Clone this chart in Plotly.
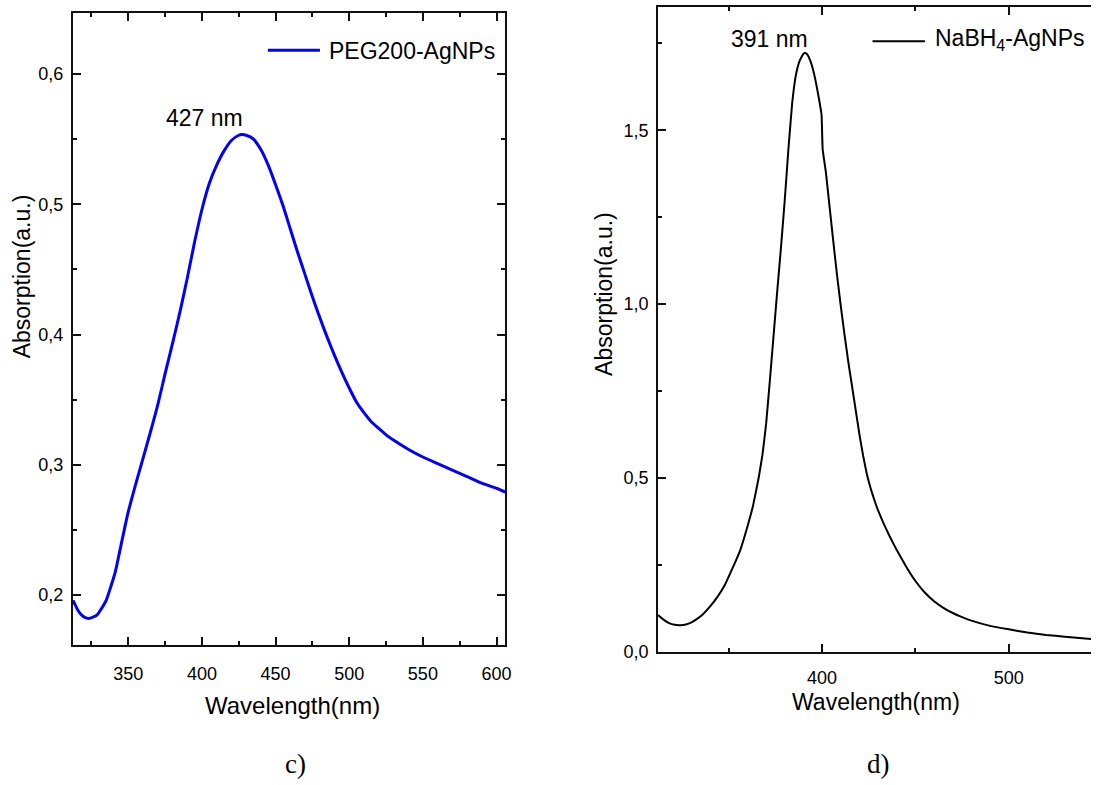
import plotly.graph_objects as go

# ---------------- data ----------------
peg_wavelength = [312.5, 316, 319, 323, 326, 329, 332, 335, 338, 341, 345, 350, 355, 360, 365,
                  370, 375, 380, 385, 390, 395, 400, 405, 410, 415, 420, 425, 427, 430, 435,
                  440, 445, 450, 455, 460, 465, 470, 475, 480, 485, 490, 495, 500, 505, 510,
                  515, 520, 525, 530, 540, 550, 560, 570, 580, 590, 600, 606]
peg_absorption = [0.196, 0.188, 0.184, 0.182, 0.183, 0.185, 0.190, 0.196, 0.206, 0.217, 0.238,
                  0.264, 0.285, 0.305, 0.325, 0.346, 0.370, 0.393, 0.417, 0.443, 0.471, 0.496,
                  0.516, 0.530, 0.541, 0.549, 0.553, 0.5535, 0.553, 0.550, 0.542, 0.530, 0.515,
                  0.499, 0.481, 0.463, 0.446, 0.429, 0.413, 0.398, 0.384, 0.371, 0.359, 0.348,
                  0.340, 0.333, 0.328, 0.323, 0.319, 0.312, 0.306, 0.301, 0.296, 0.291, 0.286,
                  0.282, 0.279]

nabh_wavelength = [312, 315, 318, 321, 324, 327, 330, 333, 336, 340, 344, 348, 352, 356, 360,
                   363, 366, 368, 370, 372, 374, 376, 378, 380, 382, 384, 386, 388, 390, 391,
                   392, 394, 396, 398, 399.7, 400.3, 402, 404, 406, 408, 410, 412, 414, 416,
                   418, 420, 422, 424, 426, 428, 430, 433, 436, 440, 445, 450, 455, 460, 465,
                   470, 475, 480, 490, 500, 510, 520, 530, 544.5]
nabh_absorption = [0.105, 0.092, 0.082, 0.077, 0.076, 0.078, 0.084, 0.094, 0.107, 0.130, 0.158,
                   0.193, 0.240, 0.290, 0.360, 0.420, 0.500, 0.565, 0.655, 0.780, 0.910, 1.040,
                   1.165, 1.300, 1.450, 1.580, 1.660, 1.700, 1.720, 1.722, 1.718, 1.695, 1.655,
                   1.600, 1.545, 1.445, 1.380, 1.280, 1.180, 1.083, 0.995, 0.912, 0.835, 0.765,
                   0.695, 0.625, 0.563, 0.510, 0.470, 0.436, 0.406, 0.368, 0.334, 0.292, 0.245,
                   0.203, 0.170, 0.145, 0.126, 0.111, 0.099, 0.089, 0.074, 0.064, 0.055, 0.048,
                   0.043, 0.036]

peg_label = "PEG200-AgNPs"
nabh_label = "NaBH<sub>4</sub>-AgNPs"
peg_peak_label = "427 nm"
nabh_peak_label = "391 nm"
x_title = "Wavelength(nm)"
y_title = "Absorption(a.u.)"
panel_labels = ["c)", "d)"]

# ---------------- figure ----------------
W, H = 1097, 785
SANS = "Liberation Sans, Arial, sans-serif"
SERIF = "Liberation Serif, Times New Roman, serif"


def px(x):
    return x / W


def py(y):
    return 1 - y / H


fig = go.Figure()
fig.add_trace(go.Scatter(x=peg_wavelength, y=peg_absorption, mode="lines",
                         line=dict(color="#0000ff", width=3, shape="spline", smoothing=0.6),
                         name="PEG200-AgNPs", xaxis="x", yaxis="y", showlegend=False))
fig.add_trace(go.Scatter(x=nabh_wavelength, y=nabh_absorption, mode="lines",
                         line=dict(color="#000000", width=2, shape="spline", smoothing=0.3),
                         name="NaBH4-AgNPs", xaxis="x2", yaxis="y2", showlegend=False))

axis_common = dict(
    showgrid=False, zeroline=False, showline=True, linecolor="#111111", linewidth=2,
    ticks="inside", ticklen=8, tickwidth=1.5, tickcolor="#111111",
    tickfont=dict(family=SANS, size=18, color="#000000"),
)
minor_common = dict(tick0=0, ticks="inside", ticklen=4, tickwidth=1.5, tickcolor="#111111")

fig.update_layout(
    width=W, height=H,
    margin=dict(l=0, r=0, t=0, b=0),
    paper_bgcolor="white", plot_bgcolor="white",
    separators=",.",
    showlegend=False,
    xaxis=dict(axis_common, domain=[px(73.3), px(508)], range=[312.4, 605.9],
               tick0=0, dtick=50, mirror="ticks", anchor="y", ticklabelstandoff=11,
               minor=dict(minor_common, dtick=25)),
    yaxis=dict(axis_common, domain=[py(653.3), py(12.7)], range=[0.1617, 0.6472],
               tick0=0, dtick=0.1, tickformat=".1f", mirror="ticks", anchor="x",
               ticklabelstandoff=4,
               minor=dict(minor_common, dtick=0.05)),
    xaxis2=dict(axis_common, domain=[px(661.7), 1.0], range=[312.1, 544.1],
                tick0=0, dtick=100, mirror="ticks", anchor="y2", ticklabelstandoff=9,
                minor=dict(minor_common, dtick=50)),
    yaxis2=dict(axis_common, domain=[py(660), py(7.3)], range=[0, 1.854],
                tick0=0, dtick=0.5, tickformat=".1f", mirror=False, anchor="x2",
                ticklabelstandoff=4,
                minor=dict(minor_common, dtick=0.25)),
)

ann = []
# axis titles
ann.append(dict(text=x_title, x=px(294), y=py(715), xref="paper", yref="paper",
                showarrow=False, xanchor="center", yanchor="middle",
                font=dict(family=SANS, size=24, color="black")))
ann.append(dict(text=x_title, x=px(881), y=py(711), xref="paper", yref="paper",
                showarrow=False, xanchor="center", yanchor="middle",
                font=dict(family=SANS, size=23, color="black")))
ann.append(dict(text=y_title, x=px(23), y=py(280), xref="paper", yref="paper",
                showarrow=False, xanchor="center", yanchor="middle", textangle=-90,
                font=dict(family=SANS, size=23, color="black")))
ann.append(dict(text=y_title, x=px(608), y=py(298), xref="paper", yref="paper",
                showarrow=False, xanchor="center", yanchor="middle", textangle=-90,
                font=dict(family=SANS, size=23, color="black")))
# peak labels
ann.append(dict(text=peg_peak_label, x=px(205.8), y=py(120), xref="paper", yref="paper",
                showarrow=False, xanchor="center", yanchor="middle",
                font=dict(family=SANS, size=23, color="black")))
ann.append(dict(text=nabh_peak_label, x=px(774), y=py(39), xref="paper", yref="paper",
                showarrow=False, xanchor="center", yanchor="middle",
                font=dict(family=SANS, size=23, color="black")))
# legend texts
ann.append(dict(text=peg_label, x=px(328.3), y=py(51.3), xref="paper", yref="paper",
                showarrow=False, xanchor="left", yanchor="middle",
                font=dict(family=SANS, size=23, color="black")))
ann.append(dict(text=nabh_label, x=px(937.7), y=py(40.5), xref="paper", yref="paper",
                showarrow=False, xanchor="left", yanchor="middle",
                font=dict(family=SANS, size=23, color="black")))
# panel captions
ann.append(dict(text=panel_labels[0], x=px(297), y=py(774), xref="paper", yref="paper",
                showarrow=False, xanchor="center", yanchor="middle",
                font=dict(family=SERIF, size=27, color="black")))
ann.append(dict(text=panel_labels[1], x=px(883), y=py(774), xref="paper", yref="paper",
                showarrow=False, xanchor="center", yanchor="middle",
                font=dict(family=SERIF, size=27, color="black")))
fig.update_layout(annotations=ann)

# legend line samples
fig.add_shape(type="line", xref="paper", yref="paper", x0=px(269.3), x1=px(321.7),
              y0=py(51), y1=py(51), line=dict(color="#0000ff", width=3))
fig.add_shape(type="line", xref="paper", yref="paper", x0=px(877.3), x1=px(930),
              y0=py(41.7), y1=py(41.7), line=dict(color="#000000", width=2))

fig.write_html("out.html")
